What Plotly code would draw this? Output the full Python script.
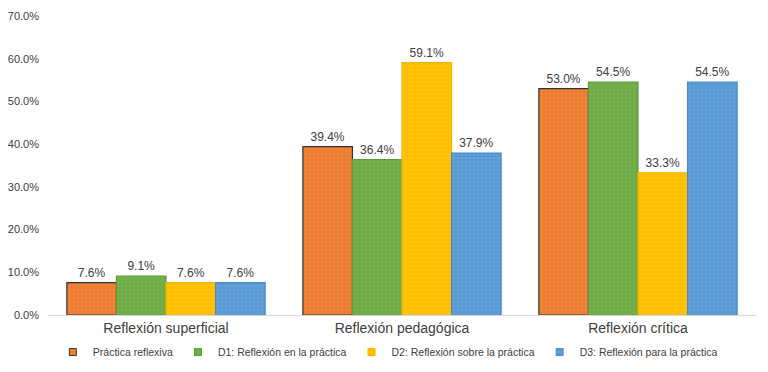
import plotly.graph_objects as go

categories = ["Reflexión superficial", "Reflexión pedagógica", "Reflexión crítica"]
series_names = ["Práctica reflexiva", "D1: Reflexión en la práctica",
                "D2: Reflexión sobre la práctica", "D3: Reflexión para la práctica"]
practica = [7.6, 39.4, 53.0]
d1 = [9.1, 36.4, 54.5]
d2 = [7.6, 59.1, 33.3]
d3 = [7.6, 37.9, 54.5]
tick_vals = [0, 10, 20, 30, 40, 50, 60, 70]
tick_text = ["0.0%", "10.0%", "20.0%", "30.0%", "40.0%", "50.0%", "60.0%", "70.0%"]

colors = ["#ED7D31", "#70AD47", "#FFC000", "#5B9BD5"]
dots = ["#F4A36C", "#8CC46A", "#FFD24D", "#8DBBE6"]
lines = ["#333333", "#5F9A3A", "#F0B400", "#4A8ACB"]
FONT = "Liberation Sans, Arial, sans-serif"

fig = go.Figure()
for name, vals, c, dc, lc in zip(series_names, [practica, d1, d2, d3], colors, dots, lines):
    fig.add_trace(go.Bar(
        x=categories, y=vals, name=name, showlegend=False,
        marker=dict(color=c, line=dict(color=lc, width=1.2),
                    pattern=dict(shape=".", fgcolor=dc, size=4, solidity=0.15)),
        text=[f"{v:.1f}%" for v in vals], textposition="outside",
        textfont=dict(family=FONT, size=12, color="#404040"),
        cliponaxis=False,
    ))
# legend-only entries with small square keys
for name, c, lc in zip(series_names, colors, lines):
    fig.add_trace(go.Scatter(
        x=[None], y=[None], mode="markers", name=name,
        marker=dict(symbol="square", size=7, color=c, line=dict(color=lc, width=1)),
    ))

fig.update_layout(
    width=768, height=372,
    margin=dict(l=40, r=20, t=8, b=65, autoexpand=False),
    barmode="group", bargap=0.16, bargroupgap=0,
    plot_bgcolor="white", paper_bgcolor="white",
    font=dict(family=FONT, color="#404040"),
    xaxis=dict(showgrid=False, showline=True, linecolor="#D9D9D9", linewidth=1,
               ticks="",
               tickfont=dict(family=FONT, size=14, color="#404040")),
    yaxis=dict(range=[0, 70], tickvals=tick_vals, ticktext=tick_text, showgrid=False,
               zeroline=False, showline=False, ticks="", automargin=False,
               ticklabelstandoff=8,
               tickfont=dict(family=FONT, size=11, color="#404040")),
    legend=dict(orientation="h", x=0.48, xanchor="center", y=-0.124, yanchor="middle",
                bgcolor="rgba(0,0,0,0)",
                font=dict(family=FONT, size=10.5, color="#404040"),
                itemwidth=30, tracegroupgap=0),
    showlegend=True,
)

fig.write_html("out.html")
